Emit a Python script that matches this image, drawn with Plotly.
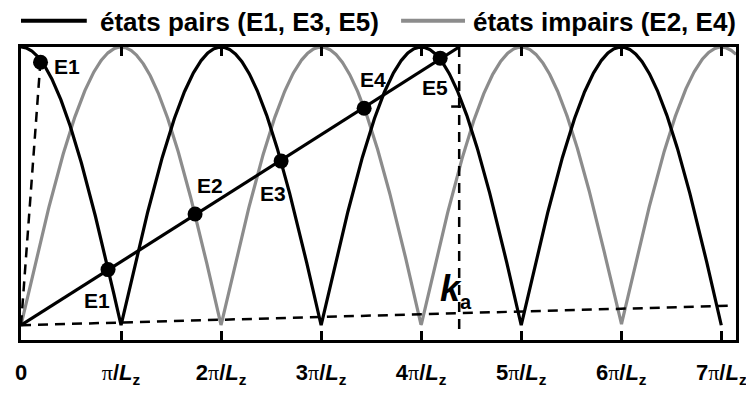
import numpy as np
import plotly.graph_objects as go

# ---- data (k in units of pi/Lz) ----
tick_vals = [0, 1, 2, 3, 4, 5, 6, 7]
PI = '<span style="font-family:\'Liberation Serif\';font-weight:normal">π</span>'
tick_labels = ["<b>0</b>"] + [
    "<b>" + ("" if n == 1 else str(n)) + PI + "/<i>L</i><sub>z</sub></b>" for n in range(1, 8)
]
k0_main = 4.38      # straight solid line reaches 1 at k0
k0_steep = 0.205    # steep dashed line
k0_flat = 101.0     # nearly flat dashed line
k_flat_end = 7.12
k_steep_end = 0.195

# intersection points
E_names = ["E1", "E2", "E3", "E4", "E5"]
E_k = [0.87, 1.74, 2.60, 3.43, 4.19]
E_y = [0.20, 0.40, 0.59, 0.78, 0.96]
E1b_k, E1b_y = 0.195, 0.945

# label positions (data coords)
lab_names = ["E1", "E1", "E2", "E3", "E4", "E5"]
lab_k = [0.46, 0.756, 1.885, 2.523, 3.515, 4.143]
lab_y = [0.93, 0.088, 0.502, 0.474, 0.884, 0.856]

x_max = 7.147
y_min = -0.053

k_black = np.linspace(0, 7, 1401)
k_gray = np.linspace(0, x_max, 1431)
black_y = np.abs(np.cos(np.pi * k_black / 2))
gray_y = np.abs(np.sin(np.pi * k_gray / 2))

FONT = "Liberation Sans, Arial"
fig = go.Figure()
fig.add_trace(go.Scatter(x=k_gray, y=gray_y, mode="lines",
                         line=dict(color="#8c8c8c", width=3.2), showlegend=False))
fig.add_trace(go.Scatter(x=k_black, y=black_y, mode="lines",
                         line=dict(color="black", width=3.2), showlegend=False))
fig.add_trace(go.Scatter(x=[0, k0_main], y=[0, 1], mode="lines",
                         line=dict(color="black", width=3.2), showlegend=False))
fig.add_trace(go.Scatter(x=[0, k_steep_end], y=[0, k_steep_end / k0_steep], mode="lines",
                         line=dict(color="black", width=2.5, dash="10px,7px"), showlegend=False))
fig.add_trace(go.Scatter(x=[0, k_flat_end], y=[0, k_flat_end / k0_flat], mode="lines",
                         line=dict(color="black", width=2.5, dash="10px,7px"), showlegend=False))
fig.add_trace(go.Scatter(x=[k0_main, k0_main], y=[1, y_min * 0.5], mode="lines",
                         line=dict(color="black", width=2.5, dash="10px,7px"), showlegend=False))
fig.add_trace(go.Scatter(x=[k0_main - 0.08, k0_main + 0.02], y=[E_y[3] + 0.006] * 2, mode="lines",
                         line=dict(color="black", width=2.5), showlegend=False))
fig.add_trace(go.Scatter(x=E_k + [E1b_k], y=E_y + [E1b_y], mode="markers",
                         marker=dict(color="black", size=15), showlegend=False))

for name, xk, yk in zip(lab_names, lab_k, lab_y):
    fig.add_annotation(x=xk, y=yk, text="<b>" + name + "</b>", showarrow=False,
                       font=dict(size=21, color="black", family=FONT))

fig.add_annotation(x=4.345, y=0.125,
                   text="<b><i>k</i><sub><span style='font-size:20px'>a</span></sub></b>",
                   showarrow=False, font=dict(size=36, color="black", family=FONT))

# manual legend
fig.add_shape(type="line", xref="paper", yref="paper", x0=0.0, x1=0.092, y0=1.09, y1=1.09,
              line=dict(color="black", width=4))
fig.add_shape(type="line", xref="paper", yref="paper", x0=0.5316, x1=0.621, y0=1.09, y1=1.09,
              line=dict(color="#8c8c8c", width=4))
fig.add_annotation(xref="paper", yref="paper", x=0.107, y=1.0867, xanchor="left", yanchor="middle",
                   text="<b>états pairs (E1, E3, E5)</b>", showarrow=False,
                   font=dict(size=26, color="black", family=FONT))
fig.add_annotation(xref="paper", yref="paper", x=0.629, y=1.0867, xanchor="left", yanchor="middle",
                   text="<b>états impairs (E2, E4)</b>", showarrow=False,
                   font=dict(size=26, color="black", family=FONT))

fig.update_layout(
    width=746, height=387,
    margin=dict(l=7, r=11, t=39, b=48),
    plot_bgcolor="white", paper_bgcolor="white",
    font=dict(family=FONT, color="black"),
)
fig.update_xaxes(range=[0, x_max], tickvals=tick_vals, ticktext=tick_labels,
                 ticks="inside", ticklen=9, tickwidth=2.5, tickcolor="black",
                 showline=True, linecolor="black", linewidth=3, mirror="ticks",
                 showgrid=False, zeroline=False,
                 tickfont=dict(size=22, color="black", family=FONT),
                 ticklabelstandoff=11)
fig.update_yaxes(range=[y_min, 1.0], showticklabels=False, ticks="",
                 showline=True, linecolor="black", linewidth=3, mirror=True,
                 showgrid=False, zeroline=False)

fig.write_html("out.html")
